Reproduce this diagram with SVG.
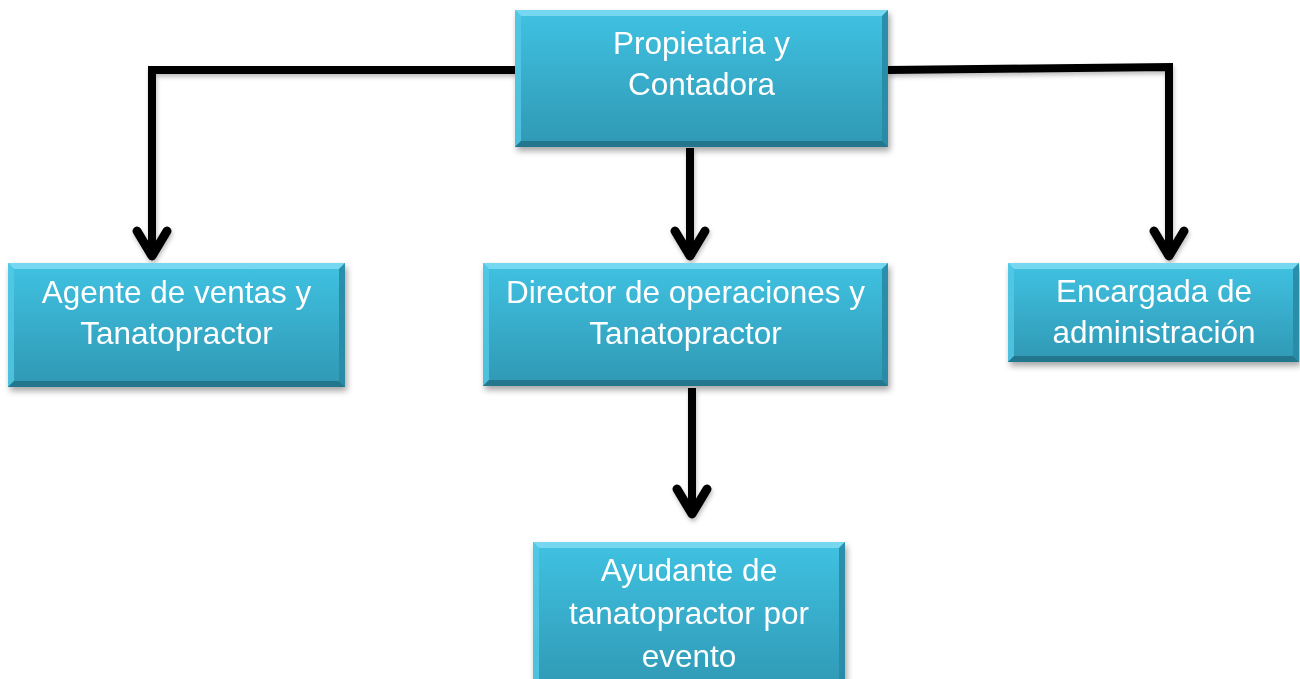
<svg xmlns="http://www.w3.org/2000/svg" width="1300" height="679" viewBox="0 0 1300 679">
<defs>
<linearGradient id="g" x1="0" y1="0" x2="0" y2="1">
<stop offset="0" stop-color="#40c2e2"/>
<stop offset="1" stop-color="#2f98b4"/>
</linearGradient>
<filter id="sh" x="-10%" y="-10%" width="120%" height="130%">
<feDropShadow dx="2" dy="4" stdDeviation="3" flood-color="#000" flood-opacity="0.35"/>
</filter>
<filter id="lsh" x="-10%" y="-10%" width="120%" height="130%">
<feDropShadow dx="1" dy="3" stdDeviation="2" flood-color="#000" flood-opacity="0.25"/>
</filter>
</defs>
<style>
.box{fill:url(#g);}
.bt{fill:#7fdcf2;opacity:0.85;}
.bl{fill:#55c9e6;opacity:0.8;}
.br{fill:#2a8aa4;opacity:0.9;}
.bb{fill:#23738a;opacity:0.9;}
.t{font-family:"Liberation Sans",Arial,sans-serif;font-size:31.5px;fill:#ffffff;text-anchor:middle;}
.c{fill:none;stroke:#000;stroke-width:8;}
.a{fill:none;stroke:#000;stroke-width:9;stroke-linecap:round;stroke-linejoin:round;}
</style>
<rect width="1300" height="679" fill="#ffffff"/>
<g id="connectors" filter="url(#lsh)">
<path class="c" d="M515,70 H152 V254"/>
<path class="a" d="M137,231 L152,256 L167,231"/>
<path class="c" d="M888,70 L1169,67 V254"/>
<path class="a" d="M1154,231 L1169,256 L1184,231"/>
<path class="c" d="M690,148 V254"/>
<path class="a" d="M675,231 L690,256 L705,231"/>
<path class="c" d="M692,388 V512"/>
<path class="a" d="M677,489 L692,514 L707,489"/>
</g>
<g id="n-propietaria" filter="url(#sh)">
<rect class="box" x="515" y="10" width="373" height="137"/>
<polygon class="bt" points="515,10 888,10 882,16 521,16"/>
<polygon class="bl" points="515,10 521,16 521,141 515,147"/>
<polygon class="br" points="888,10 888,147 882,141 882,16"/>
<polygon class="bb" points="515,147 521,141 882,141 888,147"/>
<text class="t" x="701.5" y="54">Propietaria y</text>
<text class="t" x="701.5" y="95">Contadora</text>
</g>
<g id="n-agente" filter="url(#sh)">
<rect class="box" x="8" y="263" width="337" height="124"/>
<polygon class="bt" points="8,263 345,263 339,269 14,269"/>
<polygon class="bl" points="8,263 14,269 14,381 8,387"/>
<polygon class="br" points="345,263 345,387 339,381 339,269"/>
<polygon class="bb" points="8,387 14,381 339,381 345,387"/>
<text class="t" x="176.5" y="303">Agente de ventas y</text>
<text class="t" x="176.5" y="344">Tanatopractor</text>
</g>
<g id="n-director" filter="url(#sh)">
<rect class="box" x="483" y="263" width="405" height="123"/>
<polygon class="bt" points="483,263 888,263 882,269 489,269"/>
<polygon class="bl" points="483,263 489,269 489,380 483,386"/>
<polygon class="br" points="888,263 888,386 882,380 882,269"/>
<polygon class="bb" points="483,386 489,380 882,380 888,386"/>
<text class="t" x="685.5" y="303">Director de operaciones y</text>
<text class="t" x="685.5" y="344">Tanatopractor</text>
</g>
<g id="n-encargada" filter="url(#sh)">
<rect class="box" x="1008" y="263" width="291" height="99"/>
<polygon class="bt" points="1008,263 1299,263 1293,269 1014,269"/>
<polygon class="bl" points="1008,263 1014,269 1014,356 1008,362"/>
<polygon class="br" points="1299,263 1299,362 1293,356 1293,269"/>
<polygon class="bb" points="1008,362 1014,356 1293,356 1299,362"/>
<text class="t" x="1154" y="302">Encargada de</text>
<text class="t" x="1154" y="343">administración</text>
</g>
<g id="n-ayudante" filter="url(#sh)">
<rect class="box" x="533" y="542" width="312" height="150"/>
<polygon class="bt" points="533,542 845,542 839,548 539,548"/>
<polygon class="bl" points="533,542 539,548 539,692 533,692"/>
<polygon class="br" points="845,542 845,692 839,692 839,548"/>
<text class="t" x="689" y="581">Ayudante de</text>
<text class="t" x="689" y="624">tanatopractor por</text>
<text class="t" x="689" y="667">evento</text>
</g>
</svg>
